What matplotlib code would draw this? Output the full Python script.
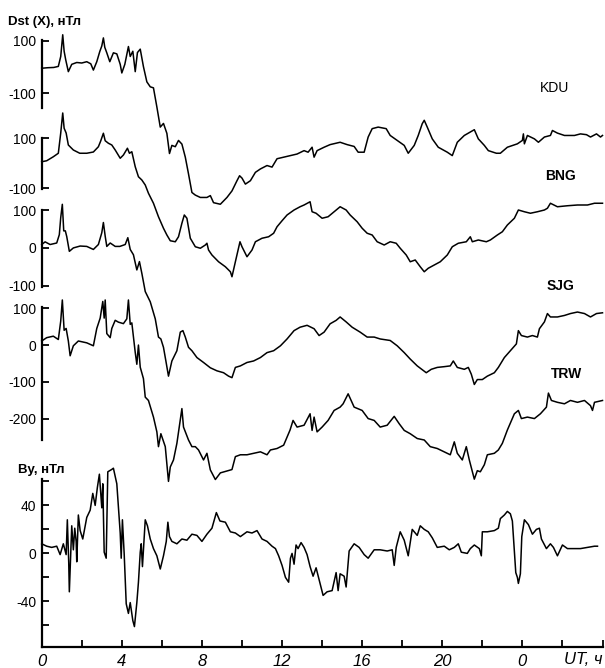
import matplotlib
matplotlib.use("Agg")
import matplotlib.pyplot as plt

plt.rcParams["font.family"] = ["Liberation Sans", "DejaVu Sans"]
plt.rcParams["axes.unicode_minus"] = False

# ---- data (hours UT, nT) ----
kdu_t = [0.0, 0.3, 0.6, 0.83, 0.95, 1.05, 1.12, 1.2, 1.33, 1.5, 1.75, 2.0, 2.25, 2.45, 2.58,
         2.75, 2.9, 3.0, 3.08, 3.15, 3.25, 3.4, 3.58, 3.75, 3.92, 4.0, 4.15, 4.33, 4.42, 4.55,
         4.67, 4.78, 4.92, 5.08, 5.25, 5.42, 5.58, 5.75, 5.92, 6.08, 6.25, 6.38, 6.5, 6.67,
         6.83, 7.0, 7.17, 7.33, 7.5, 7.67, 7.92, 8.25, 8.42, 8.58, 8.92, 9.25, 9.5, 9.75, 9.88,
         10.0, 10.17, 10.42, 10.67, 10.92, 11.25, 11.5, 11.75, 12.08, 12.4, 12.75, 13.1, 13.3,
         13.5, 13.6, 13.75, 14.1, 14.4, 14.9, 15.25, 15.6, 15.8, 16.1, 16.3, 16.5, 16.8, 17.2,
         17.4, 17.75, 18.1, 18.3, 18.6, 18.8, 19.0, 19.1, 19.25, 19.5, 19.8, 20.25, 20.5, 20.75,
         21.1, 21.4, 21.6, 21.8, 22.1, 22.3, 22.7, 22.9, 23.25, 23.75, 24.0, 24.05, 24.1, 24.25,
         24.6, 24.8, 25.1, 25.4, 25.5, 25.75, 26.1, 26.6, 26.9, 27.2, 27.4, 27.7, 27.9, 28.0]
kdu_v = [-5, -3, -2, 2, 40, 123, 60, 27, -18, 10, 17, 15, 20, 12, -12,
         20, 59, 80, 111, 75, 54, 20, 54, 50, 10, -23, 10, 78, 40, 60,
         -18, 55, 68, 1, -57, -76, -80, -153, -230, -216, -254, -331, -300, -305,
         -281, -295, -345, -409, -480, -490, -499, -499, -492, -519, -525, -499, -474, -435, -416,
         -425, -448, -435, -403, -390, -377, -383, -351, -345, -339, -333, -320, -326,
         -307, -345, -320, -307, -297, -288, -297, -304, -326, -326, -268, -236, -230, -236,
         -262, -281, -300, -330, -300, -262, -217, -204, -230, -275, -307, -326, -339, -288,
         -262, -249, -240, -275, -300, -320, -330, -330, -307, -294, -281, -256, -294, -262,
         -275, -288, -268, -262, -243, -253, -262, -262, -256, -259, -268, -256, -268, -262]

bng_t = [0.0, 0.25, 0.58, 0.83, 0.95, 1.05, 1.12, 1.22, 1.33, 1.58, 1.9, 2.25, 2.58, 2.83,
         2.95, 3.08, 3.17, 3.33, 3.5, 3.67, 3.92, 4.08, 4.28, 4.38, 4.5, 4.67, 4.83, 5.0, 5.17,
         5.33, 5.58, 5.83, 6.08, 6.25, 6.42, 6.67, 6.83, 7.0, 7.12, 7.25, 7.42, 7.67, 7.92,
         8.17, 8.25, 8.33, 8.5, 8.83, 9.17, 9.42, 9.5, 9.67, 9.9, 10.0, 10.25, 10.5, 10.67,
         11.0, 11.33, 11.58, 11.75, 12.0, 12.25, 12.6, 12.9, 13.1, 13.4, 13.5, 13.7, 14.0, 14.3,
         14.6, 14.9, 15.2, 15.4, 15.75, 16.0, 16.25, 16.5, 16.75, 17.1, 17.4, 17.7, 17.9, 18.2,
         18.4, 18.65, 18.9, 19.1, 19.3, 19.6, 19.9, 20.25, 20.5, 20.8, 21.2, 21.4, 21.5, 21.8,
         22.2, 22.4, 22.75, 23.0, 23.25, 23.6, 23.8, 24.1, 24.4, 24.75, 25.1, 25.25, 25.4,
         25.75, 26.25, 26.75, 27.25, 27.6, 28.0]
bng_v = [6, 10, 26, 40, 121, 201, 140, 121, 73, 53, 40, 40, 45, 66,
         90, 120, 90, 80, 73, 53, 20, 33, 60, 40, 46, -14, -54, -67, -87,
         -120, -160, -214, -260, -287, -310, -314, -294, -240, -207, -220, -300, -334, -340,
         -327, -320, -347, -367, -394, -414, -434, -454, -394, -314, -334, -374, -347, -314,
         -300, -294, -280, -254, -230, -207, -187, -174, -167, -154, -194, -200, -220, -214,
         -194, -174, -187, -207, -234, -260, -280, -287, -314, -327, -314, -320, -340, -367,
         -394, -387, -414, -434, -420, -407, -394, -367, -334, -320, -314, -294, -314, -307,
         -314, -307, -287, -274, -247, -220, -187, -194, -200, -194, -187, -180, -160,
         -174, -170, -167, -167, -160, -160]

sjg_t = [0.0, 0.17, 0.42, 0.75, 0.88, 0.95, 1.03, 1.1, 1.18, 1.25, 1.38, 1.58, 1.92, 2.25,
         2.58, 2.83, 3.0, 3.08, 3.17, 3.25, 3.42, 3.67, 3.9, 4.17, 4.3, 4.42, 4.58, 4.75, 4.88,
         5.0, 5.17, 5.42, 5.67, 5.83, 5.95, 6.08, 6.2, 6.33, 6.5, 6.75, 6.92, 7.05, 7.17, 7.33,
         7.5, 7.75, 8.08, 8.42, 8.75, 9.08, 9.33, 9.5, 9.67, 9.92, 10.25, 10.58, 10.92, 11.25,
         11.58, 11.92, 12.25, 12.6, 12.9, 13.25, 13.6, 13.85, 14.1, 14.4, 14.7, 14.9, 15.2,
         15.5, 15.9, 16.25, 16.6, 16.9, 17.4, 17.75, 18.1, 18.4, 18.75, 19.2, 19.45, 19.75,
         20.1, 20.4, 20.55, 20.75, 21.1, 21.3, 21.45, 21.6, 21.75, 22.0, 22.25, 22.6, 22.8,
         23.1, 23.4, 23.7, 23.8, 23.95, 24.25, 24.5, 24.75, 24.85, 25.1, 25.25, 25.4, 25.75,
         26.1, 26.4, 26.75, 27.1, 27.4, 27.7, 28.0]
sjg_v = [9, 16, 9, 13, 35, 80, 115, 45, 45, 30, -9, 0, 5, 4,
         -4, 9, 40, 67, 31, 4, 13, 4, 4, 9, 27, -4, -18, -58, -36,
         -67, -115, -142, -187, -235, -240, -262, -298, -338, -298, -271, -222, -218, -235, -262,
         -271, -289, -302, -316, -324, -329, -338, -342, -315, -311, -302, -298, -289, -276,
         -271, -258, -240, -218, -209, -204, -213, -231, -222, -200, -191, -182, -195,
         -209, -222, -235, -235, -240, -244, -258, -276, -293, -311, -329, -320, -315,
         -313, -311, -298, -315, -320, -315, -333, -360, -347, -347, -338, -329, -315,
         -289, -271, -253, -218, -231, -235, -231, -235, -213, -195, -173, -182, -182,
         -178, -173, -169, -173, -182, -173, -171]

trw_t = [0.0, 0.25, 0.58, 0.83, 0.95, 1.03, 1.12, 1.22, 1.33, 1.42, 1.58, 1.83, 2.25, 2.58,
         2.75, 2.92, 3.05, 3.12, 3.17, 3.25, 3.42, 3.5, 3.67, 3.83, 4.08, 4.25, 4.33, 4.42,
         4.5, 4.67, 4.75, 4.83, 4.92, 5.08, 5.17, 5.33, 5.58, 5.75, 5.83, 5.95, 6.17, 6.33,
         6.42, 6.58, 6.75, 7.0, 7.08, 7.33, 7.5, 7.67, 7.83, 8.08, 8.25, 8.42, 8.67, 8.92,
         9.17, 9.5, 9.67, 9.92, 10.25, 10.58, 10.92, 11.25, 11.42, 11.75, 12.08, 12.4, 12.55,
         12.75, 13.1, 13.4, 13.5, 13.6, 13.75, 14.0, 14.3, 14.6, 14.9, 15.05, 15.3, 15.45,
         15.6, 16.0, 16.3, 16.6, 16.9, 17.25, 17.6, 17.85, 18.1, 18.4, 18.75, 19.1, 19.4,
         19.75, 20.1, 20.4, 20.6, 20.75, 21.0, 21.2, 21.35, 21.6, 21.75, 21.9, 22.1, 22.25,
         22.6, 22.8, 23.0, 23.25, 23.6, 23.8, 23.95, 24.25, 24.6, 24.9, 25.2, 25.3, 25.45,
         25.75, 26.1, 26.4, 26.75, 27.1, 27.4, 27.5, 27.6, 28.0]
trw_v = [11, 20, 24, 15, 65, 122, 40, 45, 11, -29, -2, 11, 6, -2,
         45, 73, 118, 73, 122, 31, 20, 45, 67, 62, 58, 71, 122, 56,
         60, -20, -52, 0, -60, -91, -141, -150, -195, -235, -275, -240, -275, -369,
         -330, -311, -266, -172, -222, -257, -275, -275, -284, -311, -293, -338, -364, -346,
         -342, -337, -302, -297, -297, -293, -289, -297, -284, -280, -271, -230, -204,
         -222, -217, -186, -231, -195, -235, -222, -204, -177, -168, -159, -132, -150,
         -168, -177, -199, -204, -222, -217, -193, -213, -231, -240, -253, -257, -275,
         -280, -289, -297, -262, -293, -311, -275, -311, -363, -340, -343, -324, -297,
         -293, -284, -266, -230, -186, -177, -199, -195, -199, -186, -168, -130, -150,
         -155, -159, -150, -155, -150, -164, -177, -155, -150]

by_t = [0.0, 0.25, 0.5, 0.75, 0.92, 1.08, 1.22, 1.28, 1.35, 1.38, 1.45, 1.5, 1.58, 1.65,
        1.72, 1.75, 1.83, 1.92, 2.05, 2.25, 2.42, 2.55, 2.67, 2.78, 2.88, 3.0, 3.05, 3.12,
        3.22, 3.3, 3.5, 3.58, 3.75, 3.83, 3.92, 3.97, 4.03, 4.12, 4.22, 4.33, 4.42, 4.55,
        4.63, 4.75, 4.83, 4.92, 4.97, 5.03, 5.17, 5.28, 5.42, 5.58, 5.75, 5.92, 6.08, 6.22,
        6.3, 6.38, 6.5, 6.75, 7.0, 7.25, 7.5, 7.75, 8.0, 8.25, 8.5, 8.72, 8.9, 9.17, 9.42,
        9.67, 9.92, 10.25, 10.5, 10.75, 11.0, 11.25, 11.5, 11.67, 11.83, 12.0, 12.17, 12.33,
        12.42, 12.5, 12.6, 12.7, 12.8, 12.95, 13.1, 13.25, 13.4, 13.55, 13.7, 13.88, 14.05,
        14.25, 14.5, 14.7, 14.8, 14.9, 15.1, 15.2, 15.35, 15.6, 15.85, 16.1, 16.3, 16.6,
        16.9, 17.25, 17.5, 17.6, 17.7, 17.9, 18.1, 18.3, 18.5, 18.75, 18.9, 19.1, 19.3, 19.5,
        19.75, 20.1, 20.35, 20.6, 20.8, 20.95, 21.25, 21.4, 21.6, 21.85, 21.95, 22.0, 22.25,
        22.6, 22.8, 22.9, 23.1, 23.25, 23.4, 23.5, 23.6, 23.67, 23.75, 23.8, 23.9, 23.97,
        24.1, 24.3, 24.5, 24.7, 24.85, 24.95, 25.2, 25.4, 25.55, 25.75, 26.0, 26.25, 26.6,
        26.9, 27.25, 27.6, 27.75]
by_v = [8, 6, 5, 6, -1, 8, -1, 28, -8, -32, -1, 23, 3, 21,
        10, -7, 32, 19, 12, 30, 36, 50, 40, 55, 66, 38, 58, 1,
        -4, 68, 70, 71, 58, 39, 17, -4, 28, -1, -42, -50, -41, -56,
        -61, -41, -24, 1, 8, -11, 28, 23, 12, 4, -2, -13, -2, 10,
        26, 14, 10, 8, 12, 11, 16, 15, 10, 16, 21, 34, 27, 26, 18,
        17, 14, 18, 17, 19, 12, 10, 6, 4, -2, -10, -20, -24,
        -4, 0, -9, 7, 4, 9, 5, -1, -11, -19, -12, -24, -35,
        -32, -31, -16, -31, -17, -19, -28, 2, 8, 5, -1, -4, 3,
        3, 2, 3, -10, 5, 18, 11, -2, 20, 15, 23, 20, 18, 13,
        5, 6, 3, 5, 8, 1, 0, 4, 7, 4, -2, 18, 18,
        19, 21, 29, 32, 35, 33, 27, 2, -16, -20, -25, -17, 14,
        28, 24, 16, 20, 21, 12, 4, 8, 5, -2, 7, 4, 4,
        4, 5, 6, 6]

stations = ["KDU", "BNG", "SJG", "TRW"]
station_t = [kdu_t, bng_t, sjg_t, trw_t]
station_v = [kdu_v, bng_v, sjg_v, trw_v]
station_ylim = [(-157, 103), (-103, 101), (-103, 100), (-257, 103)]
station_ticks = [[-100, 100], [-100, 100], [-100, 0, 100], [-200, -100, 0, 100]]

W, H = 605, 668
X0, X1 = 41.7, 602.5


def rect(top, bottom):
    return [X0 / W, 1 - bottom / H, (X1 - X0) / W, (bottom - top) / H]


fig = plt.figure(figsize=(W / 100, H / 100), dpi=100)

# stacked Dst traces, each with its own short vertical scale
spans = [(40, 108), (138, 189), (210, 287), (307, 440)]
for name, t, v, yl, yt, (top, bot) in zip(stations, station_t, station_v,
                                          station_ylim, station_ticks, spans):
    ax = fig.add_axes(rect(top, bot))
    ax.patch.set_alpha(0)
    ax.plot(t, v, color="black", lw=1.1, clip_on=False)
    ax.set_xlim(0, 28)
    ax.set_ylim(*yl)
    for s in ["top", "right", "bottom"]:
        ax.spines[s].set_visible(False)
    ax.spines["left"].set_linewidth(1.6)
    ax.set_xticks([])
    ax.set_yticks(yt)
    ax.tick_params(axis="y", direction="in", length=5, width=1.3, labelsize=10, pad=4)

# By panel
ax = fig.add_axes(rect(479, 647))
ax.patch.set_alpha(0)
ax.plot(by_t, by_v, color="black", lw=1.1, clip_on=False)
ax.set_xlim(0, 28)
ax.set_ylim(-78, 62)
for s in ["top", "right"]:
    ax.spines[s].set_visible(False)
ax.spines["left"].set_linewidth(1.6)
ax.spines["bottom"].set_linewidth(1.6)
ax.set_yticks(range(-60, 61, 20))
ax.set_yticklabels(["", "-40", "", "0", "", "40", ""])
ax.set_xticks(range(0, 29, 2))
xlabels = ["0", "", "4", "", "8", "", "12", "", "16", "", "20", "", "0", "", ""]
ax.set_xticklabels(xlabels, fontstyle="italic", fontsize=12)
ax.tick_params(axis="y", direction="in", length=5, width=1.3, labelsize=10, pad=4)
ax.tick_params(axis="x", direction="in", length=5, width=1.3, pad=5)
fig.text(603 / W, 1 - 664 / H, "UT, ч", fontsize=12, fontstyle="italic", ha="right", va="baseline")

# labels
fig.text(8 / W, 1 - 25 / H, "Dst (X), нТл", fontsize=9.5, fontweight="bold", va="baseline")
fig.text(18 / W, 1 - 473 / H, "By, нТл", fontsize=9.5, fontweight="bold", va="baseline")
fig.text(555 / W, 1 - 88 / H, "KDU", fontsize=10, ha="center", va="center")
fig.text(561 / W, 1 - 175.5 / H, "BNG", fontsize=10, fontweight="bold", ha="center", va="center")
fig.text(560.5 / W, 1 - 285.5 / H, "SJG", fontsize=10, fontweight="bold", ha="center", va="center")
fig.text(566.5 / W, 1 - 373.5 / H, "TRW", fontsize=10, fontweight="bold", ha="center", va="center")

fig.savefig("out.png", dpi=100)
